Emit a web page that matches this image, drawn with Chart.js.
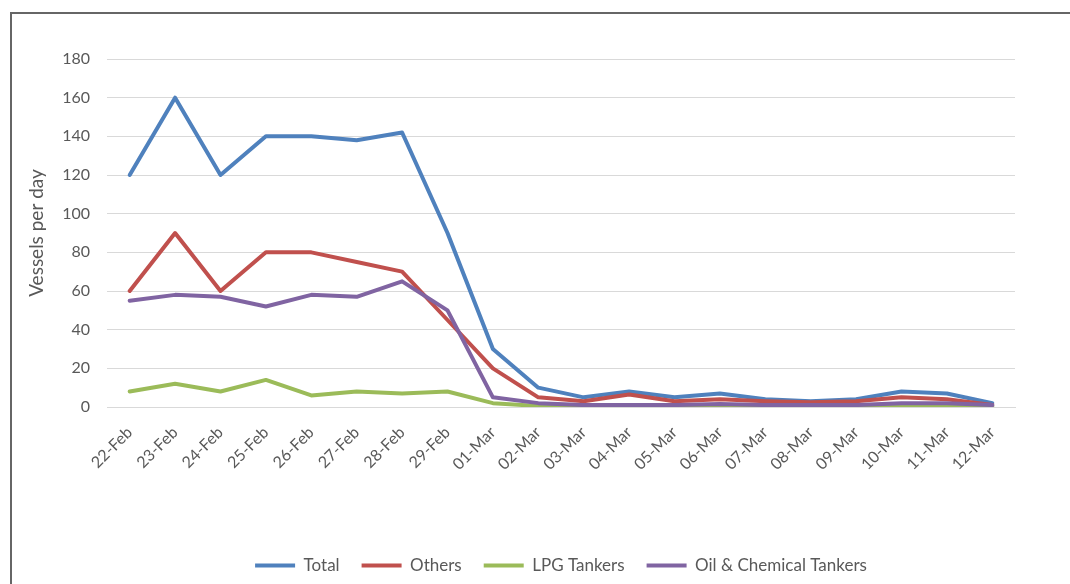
<!DOCTYPE html>
<html>
<head>
<meta charset="utf-8">
<script src="https://cdn.jsdelivr.net/npm/chart.js@4.4.1/dist/chart.umd.min.js"></script>
<style>
    html, body { margin: 0; padding: 0; background: #fff; }
    #frame {
        position: absolute; left: 10px; top: 12px; width: 1100px; height: 600px;
        border-left: 2px solid #666; border-top: 2px solid #666;
    }
    #wrap { position: absolute; left: 0; top: 0; width: 1070px; height: 584px; }
</style>
</head>
<body>
<div id="frame"></div>
<div id="wrap"><canvas id="vesselsChart" width="1070" height="584"></canvas></div>
<script>
// dates on the category axis
const dias = ['22-Feb', '23-Feb', '24-Feb', '25-Feb', '26-Feb', '27-Feb', '28-Feb', '29-Feb',
    '01-Mar', '02-Mar', '03-Mar', '04-Mar', '05-Mar', '06-Mar', '07-Mar', '08-Mar', '09-Mar',
    '10-Mar', '11-Mar', '12-Mar'];

// vessels per day
const total = [120, 160, 120, 140, 140, 138, 142, 90, 30, 10, 5, 8, 5, 7, 4, 3, 4, 8, 7, 2];
const others = [60, 90, 60, 80, 80, 75, 70, 45, 20, 5, 3, 6.5, 3, 4, 3, 2.5, 3, 5, 4, 1];
const lpgTankers = [8, 12, 8, 14, 6, 8, 7, 8, 2, 0.5, 0.3, 0.3, 0.3, 0.3, 0.3, 0.3, 0.3, 0.3, 0.3, 0.3];
const oilChemTankers = [55, 58, 57, 52, 58, 57, 65, 50, 5, 2, 1, 1, 1, 1.5, 1, 1, 1, 2, 2, 1];

const yTicks = { min: 0, max: 180, step: 20 };

const gris = '#595959';
const fuente = 'Lato, "Liberation Sans", sans-serif';

function serie(label, data, color, order) {
    return {
        label: label,
        data: data,
        borderColor: color,
        backgroundColor: color,
        borderWidth: 4,
        pointRadius: 0,
        borderJoinStyle: 'round',
        borderCapStyle: 'round',
        tension: 0,
        order: order
    };
}

const ctx = document.getElementById('vesselsChart').getContext('2d');
new Chart(ctx, {
    type: 'line',
    data: {
        labels: dias,
        datasets: [
            serie('Total', total, '#4F81BD', 3),
            serie('Others', others, '#C0504D', 2),
            serie('LPG Tankers', lpgTankers, '#9BBB59', 1),
            serie('Oil & Chemical Tankers', oilChemTankers, '#8064A2', 0)
        ]
    },
    options: {
        responsive: false,
        animation: false,
        layout: { padding: { top: 59, right: 55, left: 0, bottom: 0 } },
        plugins: {
            tooltip: { enabled: false },
            legend: {
                position: 'bottom',
                fullSize: false,
                labels: {
                    color: gris,
                    font: { family: fuente, size: 17 },
                    usePointStyle: true,
                    pointStyle: 'line',
                    pointStyleWidth: 40,
                    padding: 22,
                    sort: (a, b) => a.datasetIndex - b.datasetIndex
                }
            }
        },
        scales: {
            x: {
                offset: true,
                grid: { display: false, drawTicks: false },
                border: { display: true, color: '#d9d9d9', width: 1 },
                ticks: {
                    color: gris,
                    font: { family: fuente, size: 16 },
                    minRotation: 45,
                    maxRotation: 45,
                    autoSkip: false,
                    padding: 16
                },
                afterFit: (scale) => { scale.height = 128; }
            },
            y: {
                min: yTicks.min,
                max: yTicks.max,
                grid: { color: '#d9d9d9', lineWidth: 1, drawTicks: false },
                border: { display: false },
                ticks: {
                    stepSize: yTicks.step,
                    color: gris,
                    font: { family: fuente, size: 16 },
                    padding: 17
                },
                title: {
                    display: true,
                    text: 'Vessels per day',
                    color: gris,
                    font: { family: fuente, size: 19 },
                    padding: { top: 25, bottom: 0 }
                },
                afterFit: (scale) => { scale.width = 107; }
            }
        }
    }
});
</script>
</body>
</html>
